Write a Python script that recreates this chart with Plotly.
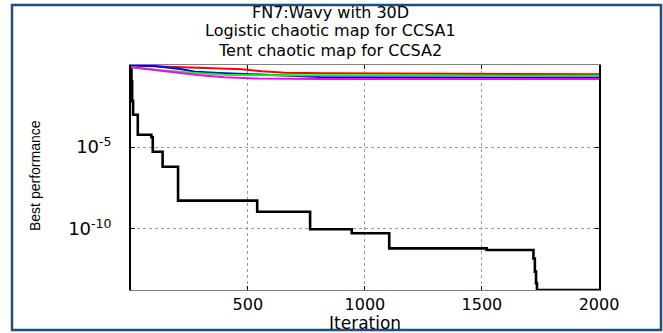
import numpy as np
import plotly.graph_objects as go

# ---- data (log10 of best performance) ----
black_iter = [1, 3, 6, 10, 30, 88, 94, 136, 202, 540, 766, 944, 1104, 1520, 1720, 1726, 1731, 1735, 2000]
black_log = [0.0, -1.0, -2.2, -3.03, -4.25, -4.41, -5.29, -6.2, -8.27, -8.95, -10.02, -10.26,
             -11.18, -11.28, -11.8, -12.6, -13.3, -13.72, -13.72]

red_iter = [1, 100, 218, 350, 474, 560, 658, 829, 1000, 1222, 1300, 2000]
red_log = [-0.03, -0.08, -0.14, -0.2, -0.26, -0.38, -0.47, -0.51, -0.52, -0.53, -0.56, -0.56]

blue_iter = [1, 100, 218, 275, 400, 500, 700, 810, 1200, 2000]
blue_log = [-0.03, -0.06, -0.26, -0.41, -0.5, -0.55, -0.68, -0.73, -0.75, -0.76]

green_iter = [1, 115, 260, 400, 600, 1000, 2000]
green_log = [-0.12, -0.3, -0.47, -0.6, -0.63, -0.65, -0.66]

magenta_iter = [1, 115, 285, 400, 543, 800, 2000]
magenta_log = [-0.13, -0.32, -0.61, -0.75, -0.83, -0.85, -0.86]

x_ticks = [500, 1000, 1500, 2000]
y_ticks = [1e-10, 1e-5]
y_tick_text = ["10<sup>-10</sup>", "10<sup>-5</sup>"]

title_lines = ["FN7:Wavy with 30D", "Logistic chaotic map for CCSA1", "Tent chaotic map for CCSA2"]

def pw(v):
    return [10.0 ** a for a in v]

fig = go.Figure()
fig.add_trace(go.Scatter(x=black_iter, y=pw(black_log), mode="lines", line_shape="hv",
                         line=dict(color="black", width=2.6), showlegend=False))
for it, lg, col in [(red_iter, red_log, "#ff0000"), (blue_iter, blue_log, "#0000ff"),
                    (green_iter, green_log, "#00ff00"), (magenta_iter, magenta_log, "#ff00ff")]:
    fig.add_trace(go.Scatter(x=it, y=pw(lg), mode="lines",
                             line=dict(color=col, width=2), showlegend=False))

W, H = 663, 333
L, R, T, B = 131, 64, 65, 43
pw_ = W - L - R
ph_ = H - T - B

def px(x):
    return (x - L) / pw_

def py(y):
    return (H - B - y) / ph_

font_main = "DejaVu Sans"
anns = []
for txt, yc in zip(title_lines, [12, 31, 50]):
    anns.append(dict(text=txt, x=px(330), y=py(yc), xref="paper", yref="paper",
                     xanchor="center", yanchor="middle", showarrow=False,
                     font=dict(family=font_main, size=16, color="black")))
anns.append(dict(text="Iteration", x=0.5, y=py(323), xref="paper", yref="paper",
                 xanchor="center", yanchor="middle", showarrow=False,
                 font=dict(family=font_main, size=17, color="black")))
anns.append(dict(text="Best performance", x=px(35), y=py(176), xref="paper", yref="paper",
                 xanchor="center", yanchor="middle", showarrow=False, textangle=-90,
                 font=dict(family="Liberation Sans", size=14, color="black")))

fig.update_layout(
    width=W, height=H,
    margin=dict(l=L, r=R, t=T, b=B, pad=0),
    paper_bgcolor="white", plot_bgcolor="white",
    annotations=anns,
    shapes=[dict(type="rect", xref="paper", yref="paper",
                 x0=px(12), x1=px(661), y0=py(330), y1=py(5),
                 line=dict(color="#1f4e79", width=2.5))],
)
fig.update_xaxes(range=[1, 2000], tickvals=x_ticks, ticks="inside", ticklen=4,
                 tickcolor="black", showline=True, linecolor="#808080", linewidth=1,
                 mirror="ticks", showgrid=True, gridcolor="#9a9a9a", griddash="dot",
                 gridwidth=1, zeroline=False, ticklabelstandoff=0,
                 tickfont=dict(family=font_main, size=16, color="black"))
fig.update_yaxes(type="log", range=[-13.72, 0.0], tickvals=y_ticks, ticktext=y_tick_text,
                 ticks="inside", ticklen=4, tickcolor="black", showline=True,
                 linecolor="black", linewidth=1.5, mirror="ticks", showgrid=True,
                 gridcolor="#9a9a9a", griddash="dot", gridwidth=1, zeroline=False,
                 ticklabelstandoff=14,
                 tickfont=dict(family=font_main, size=18, color="black"))

fig.write_html("out.html")
